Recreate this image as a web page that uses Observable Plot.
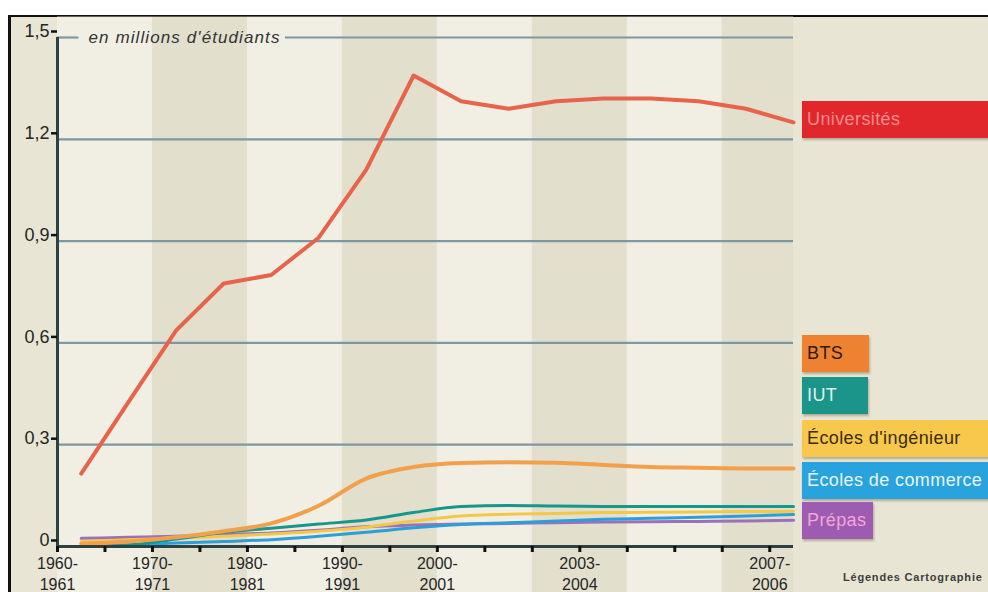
<!DOCTYPE html>
<html>
<head>
<meta charset="utf-8">
<script src="https://cdn.jsdelivr.net/npm/d3@7"></script>
<script src="https://cdn.jsdelivr.net/npm/@observablehq/plot@0.6"></script>
<style>
  html, body { margin: 0; padding: 0; background: #ffffff; }
  #wrap { position: relative; width: 988px; height: 592px; overflow: hidden; background: #ffffff; font-family: "Liberation Sans", Arial, sans-serif; }
  #frame { position: absolute; left: 8px; top: 15px; right: 0; bottom: 0; background: #e8e5d4; border-top: 2px solid #111; border-left: 3px solid #111; }
  #chart { position: absolute; left: 0; top: 0; }
  .unit-label text { letter-spacing: 1.1px; }
  .lg { position: absolute; height: 37px; line-height: 37px; font-size: 18px; padding-left: 5px; box-sizing: border-box; letter-spacing: 0.4px; box-shadow: 1px 2px 2px rgba(80,70,40,0.35); white-space: nowrap; }
  #credit { position: absolute; left: 843px; top: 571px; font-size: 11px; color: #3d3d3d; font-weight: bold; letter-spacing: 0.8px; }
</style>
</head>
<body>
<div id="wrap">
  <div id="frame"></div>
  <div id="chart"></div>
  <div id="credit">Légendes Cartographie</div>
</div>
<script>
// Periods (irregular spacing: every 5 years then every year)
const years = ["1960","1965","1970","1975","1980","1985","1990","1995","2000","2001","2002","2003","2004","2005","2006","2007"];
const xTickLabels = ["1960-\n1961","","1970-\n1971","","1980-\n1981","","1990-\n1991","","2000-\n2001","","","2003-\n2004","","","","2007-\n2006"];
const yTicks = [0, 0.3, 0.6, 0.9, 1.2, 1.5];
const yTickLabels = ["0", "0,3", "0,6", "0,9", "1,2", "1,5"];
const unitLabel = "en millions d'étudiants";

// Values, millions of students
const universites = [0.215, 0.427, 0.637, 0.775, 0.800, 0.910, 1.110, 1.388, 1.312, 1.290, 1.312, 1.320, 1.320, 1.312, 1.290, 1.250];
const bts         = [0.008, 0.015, 0.027, 0.045, 0.068, 0.120, 0.200, 0.234, 0.246, 0.248, 0.247, 0.240, 0.234, 0.232, 0.230, 0.230];
const iut         = [0.000, 0.004, 0.022, 0.042, 0.054, 0.066, 0.078, 0.100, 0.118, 0.121, 0.119, 0.118, 0.118, 0.118, 0.118, 0.118];
const ingenieur   = [0.015, 0.020, 0.025, 0.030, 0.037, 0.045, 0.057, 0.075, 0.090, 0.095, 0.097, 0.100, 0.101, 0.102, 0.103, 0.104];
const commerce    = [0.003, 0.005, 0.010, 0.015, 0.020, 0.030, 0.042, 0.055, 0.065, 0.070, 0.075, 0.080, 0.083, 0.086, 0.090, 0.094];
const prepas      = [0.024, 0.027, 0.030, 0.035, 0.040, 0.048, 0.058, 0.063, 0.066, 0.068, 0.070, 0.072, 0.073, 0.074, 0.075, 0.077];

const seriesNames = ["Universités", "BTS", "IUT", "Écoles d'ingénieur", "Écoles de commerce", "Prépas"];
const seriesValues = [universites, bts, iut, ingenieur, commerce, prepas];

// Styles
const lineColors = ["#e8634b", "#f2a04c", "#16978c", "#f3c748", "#2c9ed9", "#9b71b9"];
const lineWidths = [4, 4, 3, 3, 3, 3];
const boxColors  = ["#e1262c", "#ee8231", "#1b958a", "#f7c84b", "#28a3dd", "#9d5bb1"];
const textColors = ["#f38c8c", "#2b1a0e", "#dff1ef", "#3a2c05", "#e8f5fc", "#f3a6d6"];
const boxTops    = [101, 335, 377, 420, 462, 502];
const boxWidths  = [190, 67, 66, 190, 190, 71];

const rows = [];
seriesNames.forEach((name, s) => {
  seriesValues[s].forEach((v, i) => rows.push({series: name, s, i, year: years[i], v}));
});

// Background bands, two periods wide
const bands = d3.range(0, years.length, 2).map((start, k) => ({x1: start, x2: Math.min(start + 2, years.length - 0.5), dark: k % 2 === 1}));

const gridColor = "#7c98a3";
const axisColor = "#2c4242";

const marks = [
  Plot.rect(bands, {x1: "x1", x2: "x2", y1: -0.14, y2: 1.56, fill: d => d.dark ? "#e2dfcd" : "#f1efe3"}),
  Plot.ruleY([0.3, 0.6, 0.9, 1.2], {stroke: gridColor, strokeWidth: 2.2}),
  Plot.ruleY([1.5], {x1: 0, x2: 0.45, stroke: gridColor, strokeWidth: 2.2}),
  Plot.ruleY([1.5], {x1: 4.8, x2: years.length - 0.5, stroke: gridColor, strokeWidth: 2.2}),
  Plot.text([unitLabel], {frameAnchor: "top-left", dx: 31, dy: 0, lineAnchor: "middle", textAnchor: "start", fontStyle: "italic", fontSize: 17, fill: "#333", className: "unit-label"})
];
// draw lower series first, universités on top
for (let s = seriesNames.length - 1; s >= 0; s--) {
  marks.push(Plot.line(rows.filter(d => d.s === s), {
    x: d => d.i + 0.5, y: "v",
    stroke: lineColors[s], strokeWidth: lineWidths[s],
    curve: s === 0 ? "linear" : "monotone-x",
    strokeLinejoin: "round", strokeLinecap: "round"
  }));
}
marks.push(
  Plot.ruleY([0], {stroke: axisColor, strokeWidth: 3}),
  Plot.ruleX([0], {y1: 0, y2: 1.5, stroke: axisColor, strokeWidth: 3}),
  Plot.axisY({ticks: yTicks, label: null, tickFormat: v => yTickLabels[yTicks.indexOf(v)], tickSize: 6, tickPadding: 2, dy: -6, fontSize: 18, fill: "#262626", stroke: "#111", strokeWidth: 2.5}),
  Plot.axisX({ticks: d3.range(years.length), label: null, tickFormat: i => xTickLabels[i], tickSize: 6, tickPadding: 2, fontSize: 16, lineHeight: 1.3, fill: "#262626", stroke: "#111", strokeWidth: 3})
);

const chart = Plot.plot({
  width: 988,
  height: 592,
  marginLeft: 57,
  marginRight: 195,
  marginTop: 37,
  marginBottom: 46,
  x: {domain: [0, years.length - 0.5], axis: null},
  y: {domain: [0, 1.5], axis: null},
  style: {background: "transparent", overflow: "visible", fontFamily: "'Liberation Sans', Arial, sans-serif"},
  marks
});
document.getElementById("chart").appendChild(chart);

// Legend boxes
const wrap = document.getElementById("wrap");
seriesNames.forEach((name, s) => {
  const d = document.createElement("div");
  d.className = "lg";
  d.textContent = name;
  d.style.left = "802px";
  d.style.top = boxTops[s] + "px";
  d.style.width = boxWidths[s] + "px";
  d.style.background = boxColors[s];
  d.style.color = textColors[s];
  wrap.appendChild(d);
});
</script>
</body>
</html>
